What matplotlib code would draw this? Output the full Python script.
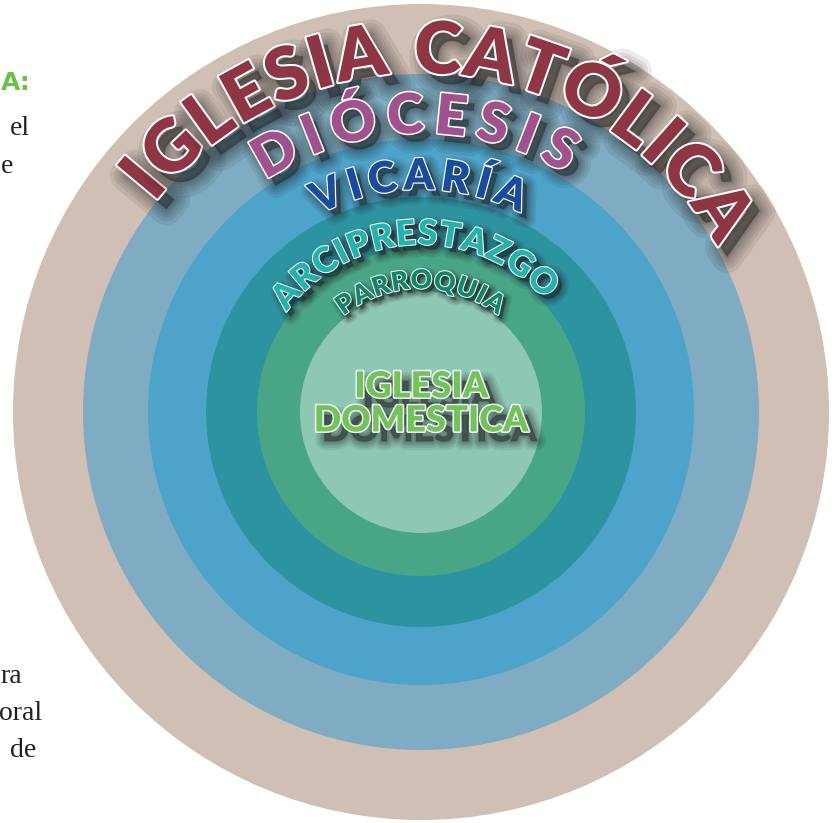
import numpy as np
import matplotlib.pyplot as plt
import matplotlib.patheffects as pe
from matplotlib.patches import Circle
from matplotlib.font_manager import FontProperties

W, H = 836, 823
cx, cy = 421, H - 412

# nested levels, outer to inner
levels = ["IGLESIA CATÓLICA", "DIÓCESIS", "VICARÍA", "ARCIPRESTAZGO", "PARROQUIA"]
center_lines = ["IGLESIA", "DOMESTICA"]
radii = [408, 338, 273, 215, 164, 121]
ring_colors = ["#d0bfb4", "#7facc2", "#4ea3ca", "#2e93a1", "#48a586", "#8fc7b5"]
text_colors = ["#8e3546", "#a0528f", "#1a4c9c", "#22b3ae", "#0e876a"]
center_color = "#72c45a"

# side text cut off at the page edge
side_words = ["el", "e", "ra", "oral", "de"]
side_right = [30, 13, 22, 42, 36]
side_base = [135, 173, 683, 720, 757]

# arc layout: radius of letter middle, first/last letter angle, cap height (px)
arc_r = [365, 299, 238, 180, 133]
arc_start = [140.0, 119.5, 113.5, 139.0, 125.0]
arc_end = [33.6, 62.0, 67.5, 47.0, 56.0]
cap_px = [52, 40, 31, 25, 19]

fp = FontProperties(family=["Lato", "DejaVu Sans"], weight="heavy")
CAP = 0.72


def effects(lw, off, blur):
    # soft drop shadow: stacked strokes of growing width
    out = []
    for k in [4.0, 3.0, 2.2, 1.5, 0.9, 0.4, 0.0]:
        out.append(pe.SimplePatchShadow(offset=off, shadow_rgbFace="#1c1c1c", alpha=0.085,
                                        linewidth=blur * k, foreground="#1c1c1c"))
    out.append(pe.withStroke(linewidth=lw, foreground="white"))
    return out


fig = plt.figure(figsize=(W / 100, H / 100), dpi=100)
ax = fig.add_axes([0, 0, 1, 1])
ax.set_xlim(0, W)
ax.set_ylim(0, H)
ax.axis("off")

for r, c in zip(radii, ring_colors):
    ax.add_patch(Circle((cx, cy), r, facecolor=c, edgecolor="none"))

renderer = fig.canvas.get_renderer()


def arc_text(word, r_mid, a0, a1, cap, color):
    fs = cap / CAP * 72 / 100
    fs_px = cap / CAP
    widths = []
    for ch in word:
        if ch == " ":
            widths.append(0.28 * fs_px)
        else:
            t = ax.text(0, 0, ch, fontproperties=fp, fontsize=fs)
            widths.append(t.get_window_extent(renderer).width)
            t.remove()
    widths = np.array(widths)
    mids = np.cumsum(widths) - widths / 2
    n = len(word)
    span = r_mid * np.radians(a0 - a1)
    track = (span - (mids[-1] - mids[0])) / (n - 1)
    s = mids - mids[0] + track * np.arange(n)
    rb = r_mid - cap / 2
    lw = max(1.5, cap / 18)
    off = (cap / 8, -cap / 7)
    for ch, si in zip(word, s):
        if ch == " ":
            continue
        th = np.radians(a0) - si / r_mid
        ax.text(cx + rb * np.cos(th), cy + rb * np.sin(th), ch, fontproperties=fp,
                fontsize=fs, color=color, ha="center", va="baseline",
                rotation=np.degrees(th) - 90, rotation_mode="anchor",
                path_effects=effects(lw, off, cap / 9))


for i, word in enumerate(levels):
    arc_text(word, arc_r[i], arc_start[i], arc_end[i], cap_px[i], text_colors[i])

# centre label
for line, y in zip(center_lines, [H - 387, H - 421]):
    ax.text(cx, y, line, fontproperties=fp, fontsize=26, color=center_color,
            ha="center", va="center", path_effects=effects(2.0, (6, -7), 3.2))

# fragments of the neighbouring page
ax.text(31, H - 90, "A:", fontproperties=FontProperties(family="DejaVu Sans", weight="bold"),
        fontsize=18, color="#6cc04a", ha="right", va="baseline")
for w, xr, yb in zip(side_words, side_right, side_base):
    ax.text(xr, H - yb, w, family="Liberation Serif", fontsize=20, color="#231f20",
            ha="right", va="baseline")

fig.savefig("out.png", dpi=100)
